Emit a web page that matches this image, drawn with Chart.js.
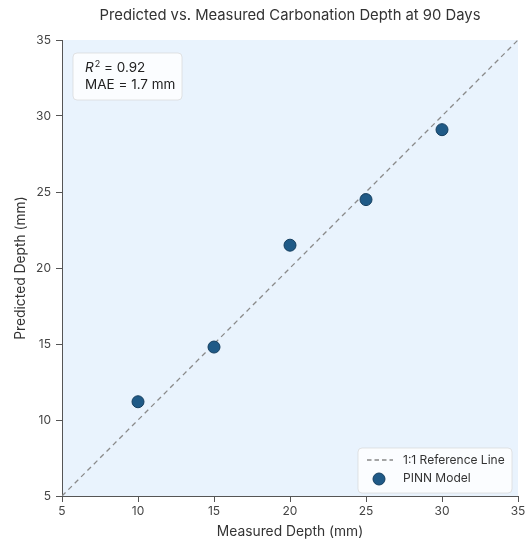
<!DOCTYPE html>
<html>
<head>
<meta charset="utf-8">
<script src="https://cdn.jsdelivr.net/npm/chart.js@4.4.0/dist/chart.umd.min.js"></script>
<style>
  html, body { margin: 0; padding: 0; background: #fff; }
  #wrap { width: 525px; height: 541px; }
</style>
</head>
<body>
<div id="wrap"><canvas id="chart" width="525" height="541"></canvas></div>
<script>
// measured vs predicted depth (mm)
const measured = [10, 15, 20, 25, 30];
const predicted = [11.2, 14.8, 21.5, 24.5, 29.1];
const refLine = [5, 35];
const axisTicks = [5, 10, 15, 20, 25, 30, 35];
const titleText = 'Predicted vs. Measured Carbonation Depth at 90 Days';
const statR2 = '0.92';
const statMae = 'MAE = 1.7 mm';
const legendLabels = ['1:1 Reference Line', 'PINN Model'];

const FONT = 'Inter, "Open Sans", sans-serif';

// light blue plot background
const bgPlugin = {
    id: 'bg',
    beforeDraw(chart) {
        const { ctx, chartArea: a } = chart;
        ctx.save();
        ctx.fillStyle = '#e9f3fd';
        ctx.fillRect(a.left, a.top, a.right - a.left, a.bottom - a.top);
        ctx.restore();
    }
};

function roundBox(ctx, x, y, w, h, r) {
    ctx.beginPath();
    ctx.moveTo(x + r, y);
    ctx.arcTo(x + w, y, x + w, y + h, r);
    ctx.arcTo(x + w, y + h, x, y + h, r);
    ctx.arcTo(x, y + h, x, y, r);
    ctx.arcTo(x, y, x + w, y, r);
    ctx.closePath();
}

// title (centred over the plot), stats box + legend
const boxesPlugin = {
    id: 'boxes',
    afterDraw(chart) {
        const { ctx, chartArea: a } = chart;
        ctx.save();
        ctx.fillStyle = '#333';
        ctx.font = '14.8px ' + FONT;
        ctx.textAlign = 'center';
        ctx.textBaseline = 'middle';
        ctx.fillText(titleText, (a.left + a.right) / 2, 16);
        ctx.textAlign = 'left';

        // stats box
        ctx.fillStyle = 'rgba(255,255,255,0.82)';
        ctx.strokeStyle = 'rgba(215,215,215,0.7)';
        ctx.lineWidth = 1;
        roundBox(ctx, a.left + 11, a.top + 13, 109, 47, 4);
        ctx.fill();
        ctx.stroke();
        ctx.fillStyle = '#222';
        let x = a.left + 23;
        ctx.font = 'italic 13.5px ' + FONT;
        ctx.fillText('R', x, a.top + 28);
        x += ctx.measureText('R').width + 1;
        ctx.font = '9px ' + FONT;
        ctx.fillText('2', x, a.top + 24);
        x += ctx.measureText('2').width;
        ctx.font = '13.5px ' + FONT;
        ctx.fillText(' = ' + statR2, x, a.top + 28);
        ctx.fillText(statMae, a.left + 23, a.top + 45);

        // legend
        const lx = a.right - 160, ly = a.bottom - 48, lw = 154, lh = 45;
        ctx.fillStyle = 'rgba(255,255,255,0.82)';
        ctx.strokeStyle = 'rgba(215,215,215,0.7)';
        roundBox(ctx, lx, ly, lw, lh, 4);
        ctx.fill();
        ctx.stroke();
        ctx.strokeStyle = '#888';
        ctx.lineWidth = 1.3;
        ctx.setLineDash([4.5, 3]);
        ctx.beginPath();
        ctx.moveTo(lx + 9, ly + 12);
        ctx.lineTo(lx + 35, ly + 12);
        ctx.stroke();
        ctx.setLineDash([]);
        ctx.fillStyle = '#1f5a87';
        ctx.strokeStyle = '#153f60';
        ctx.lineWidth = 1;
        ctx.beginPath();
        ctx.arc(lx + 21, ly + 31, 6, 0, Math.PI * 2);
        ctx.fill();
        ctx.stroke();
        ctx.fillStyle = '#333';
        ctx.font = '12px ' + FONT;
        ctx.fillText(legendLabels[0], lx + 45, ly + 12);
        ctx.fillText(legendLabels[1], lx + 45, ly + 30);
        ctx.restore();
    }
};

const ctx = document.getElementById('chart').getContext('2d');
new Chart(ctx, {
    type: 'scatter',
    data: {
        datasets: [
            {
                label: legendLabels[0],
                type: 'line',
                data: refLine.map(v => ({ x: v, y: v })),
                borderColor: '#8a8a8a',
                borderWidth: 1.3,
                borderDash: [5, 4],
                pointRadius: 0,
                fill: false,
                order: 2
            },
            {
                label: legendLabels[1],
                data: measured.map((m, i) => ({ x: m, y: predicted[i] })),
                backgroundColor: '#1f5a87',
                borderColor: '#153f60',
                borderWidth: 1,
                pointRadius: 6,
                order: 1
            }
        ]
    },
    options: {
        responsive: false,
        animation: false,
        layout: { padding: { left: 0, right: 0, top: 40, bottom: 0 } },
        plugins: {
            legend: { display: false },
            tooltip: { enabled: false },
            title: { display: false }
        },
        scales: {
            x: {
                type: 'linear',
                min: 5,
                max: 35,
                afterBuildTicks: s => { s.ticks = axisTicks.map(v => ({ value: v })); },
                afterFit: s => { s.height = 45; s.paddingRight = 7; },
                grid: { display: true, drawOnChartArea: false, drawTicks: true, tickLength: 6, color: '#555' },
                border: { color: '#555', width: 1 },
                ticks: { color: '#444', font: { family: FONT, size: 12 }, padding: 2 },
                title: { display: true, text: 'Measured Depth (mm)', color: '#333', font: { family: FONT, size: 13.8 }, padding: { top: 0, bottom: 1 } }
            },
            y: {
                type: 'linear',
                min: 5,
                max: 35,
                afterBuildTicks: s => { s.ticks = axisTicks.map(v => ({ value: v })); },
                afterFit: s => { s.width = 62; },
                grid: { display: true, drawOnChartArea: false, drawTicks: true, tickLength: 6, color: '#555' },
                border: { color: '#555', width: 1 },
                ticks: { color: '#444', font: { family: FONT, size: 12 }, padding: 5 },
                title: { display: true, text: 'Predicted Depth (mm)', color: '#333', font: { family: FONT, size: 13.8 }, padding: { top: 13, bottom: 0 } }
            }
        }
    },
    plugins: [bgPlugin, boxesPlugin]
});
</script>
</body>
</html>
